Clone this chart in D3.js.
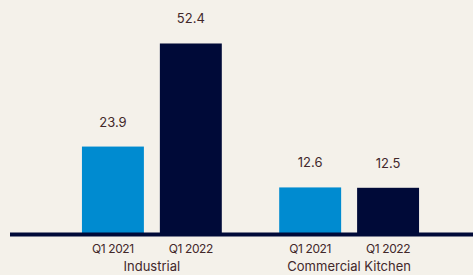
<!DOCTYPE html>
<html>
<head>
<meta charset="utf-8">
<script src="https://cdn.jsdelivr.net/npm/d3@7"></script>
<style>
  html, body { margin: 0; padding: 0; background: #f4f1ea; }
  svg { display: block; }
  text { font-family: Inter, "Noto Sans", sans-serif; fill: #42282a; }
</style>
</head>
<body>
<svg id="chart" width="473" height="275"></svg>
<script>
const categories = ["Industrial", "Commercial Kitchen"];
const periods = ["Q1 2021", "Q1 2022"];
const q12021 = [23.9, 12.6];
const q12022 = [52.4, 12.5];
const colors = ["#008bd0", "#000a38"];

const width = 473;
const height = 275;
const baseY = 233;

const svg = d3.select("#chart");

const x0 = d3.scaleBand()
  .domain(categories)
  .range([53.25, 447.75])
  .paddingInner(0.291)
  .paddingOuter(0.1455);

const x1 = d3.scaleBand()
  .domain(periods)
  .range([0, x0.bandwidth()])
  .paddingInner(0.205)
  .paddingOuter(0);

const y = d3.scaleLinear()
  .domain([0, 60])
  .range([baseY, baseY - 217]);

const rows = [];
categories.forEach((cat, i) => {
  rows.push({ cat: cat, period: periods[0], value: q12021[i], color: colors[0] });
  rows.push({ cat: cat, period: periods[1], value: q12022[i], color: colors[1] });
});

svg.selectAll("rect.bar")
  .data(rows)
  .enter()
  .append("rect")
  .attr("class", "bar")
  .attr("x", (d) => x0(d.cat) + x1(d.period))
  .attr("y", (d) => y(d.value))
  .attr("width", x1.bandwidth())
  .attr("height", (d) => baseY - y(d.value) + 1)
  .attr("fill", (d) => d.color);

svg.selectAll("text.val")
  .data(rows)
  .enter()
  .append("text")
  .attr("class", "val")
  .attr("x", (d) => x0(d.cat) + x1(d.period) + x1.bandwidth() / 2)
  .attr("y", (d) => y(d.value) - 20)
  .attr("text-anchor", "middle")
  .style("font-size", "13px")
  .text((d) => d.value.toFixed(1));

// baseline
svg.append("line")
  .attr("x1", 10)
  .attr("x2", width)
  .attr("y1", baseY + 1.5)
  .attr("y2", baseY + 1.5)
  .attr("stroke", "#000a38")
  .attr("stroke-width", 4);

// period ticks under each bar
svg.selectAll("text.tick")
  .data(rows)
  .enter()
  .append("text")
  .attr("class", "tick")
  .attr("x", (d) => x0(d.cat) + x1(d.period) + x1.bandwidth() / 2)
  .attr("y", 253)
  .attr("text-anchor", "middle")
  .style("font-size", "12px")
  .style("letter-spacing", "-0.4px")
  .text((d) => d.period);

// category labels
svg.selectAll("text.cat")
  .data(categories)
  .enter()
  .append("text")
  .attr("class", "cat")
  .attr("x", (d) => x0(d) + x0.bandwidth() / 2)
  .attr("y", 271)
  .attr("text-anchor", "middle")
  .style("font-size", "13px")
  .text((d) => d);
</script>
</body>
</html>
